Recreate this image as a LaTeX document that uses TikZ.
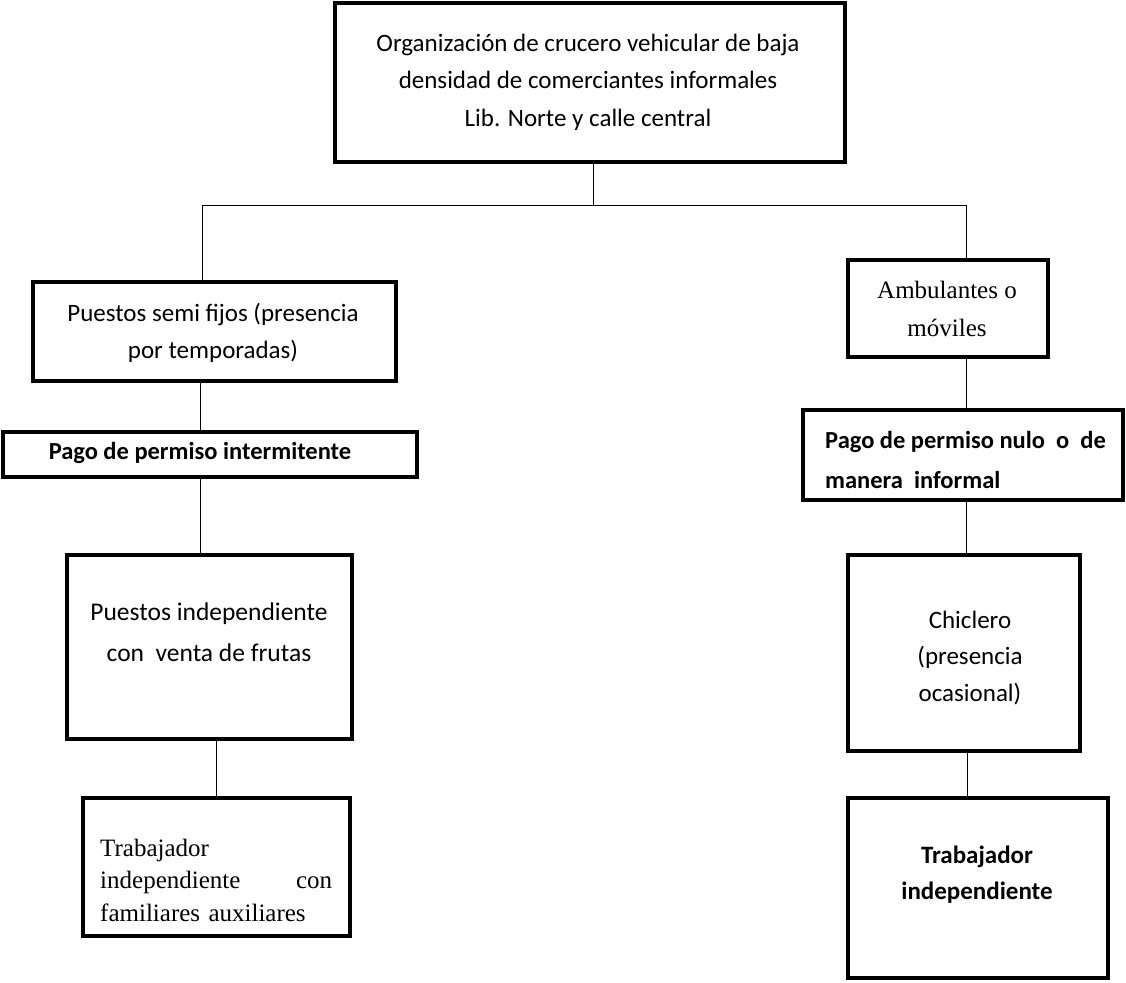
\documentclass[tikz,border=0pt]{standalone}
\usepackage{fontspec}
\setmainfont{Carlito}
\newfontfamily\tnr{Liberation Serif}
\begin{document}
\begin{tikzpicture}[x=1pt,y=-1pt,
  box/.style={draw=black,line width=3.5pt,minimum width=#1,inner sep=0pt},
  txt/.style={inner sep=0pt,align=center,font=\fontsize{25}{37}\selectfont},
  conn/.style={line width=1pt}]
\useasboundingbox[fill=white] (0,0) rectangle (1126,982);
% boxes
\node[box=510pt,minimum height=159pt] (top) at (590,82.5) {};
\node[box=363pt,minimum height=99pt] (semi) at (214.5,331.5) {};
\node[box=414pt,minimum height=45pt] (pint) at (210,454.5) {};
\node[box=285pt,minimum height=184pt] (pind) at (209.5,647) {};
\node[box=267pt,minimum height=138pt] (tfam) at (216.5,867) {};
\node[box=200pt,minimum height=97pt] (amb) at (948,308.5) {};
\node[box=320pt,minimum height=90pt] (pnul) at (963,455) {};
\node[box=232pt,minimum height=196pt] (chic) at (964,653) {};
\node[box=260pt,minimum height=180pt] (tind) at (978,888) {};
% texts
\node[txt,font=\fontsize{25}{37.5}\selectfont] (ttop) at (588,82) {Organización de crucero vehicular de baja\\densidad de comerciantes informales\\Lib. Norte y calle central};
\node[txt] (tsemi) at (213,333) {Puestos semi fijos (presencia\\por temporadas)};
\node[txt,font=\bfseries\fontsize{24.5}{37}\selectfont] (tpint) at (200,453) {Pago de permiso intermitente};
\node[txt,font=\fontsize{25.5}{41}\selectfont] (tpind) at (209,632) {Puestos independiente\\con~ venta de frutas};
\node[txt,align=left,text width=232pt,anchor=west,font=\tnr\fontsize{25}{32.5}\selectfont] (ttfam) at (100,880) {Trabajador\\independiente\hfill con\\familiares auxiliares};
\node[txt,font=\tnr\fontsize{25}{38}\selectfont] (tamb) at (947,309) {Ambulantes o\\móviles};
\node[txt,align=left,anchor=west,font=\bfseries\fontsize{24.5}{40}\selectfont] (tpnul) at (825,460) {Pago de permiso nulo~ o~ de\\manera~ informal};
\node[txt,font=\fontsize{25}{36.5}\selectfont] (tchic) at (970,658) {Chiclero\\(presencia\\ocasional)};
\node[txt,font=\bfseries\fontsize{25}{36}\selectfont] (ttind) at (977,875) {Trabajador\\independiente};
% connectors
\coordinate (hl) at (202,205);
\coordinate (hr) at (966,205);
\draw[conn] (593,0 |- top.south) -- (593,205);
\draw[conn] (hl) -- (hr);
\draw[conn] (hl) -- (hl |- semi.north);
\draw[conn] (hr) -- (hr |- amb.north);
\draw[conn] (200,0 |- semi.south) -- (200,0 |- pint.north);
\draw[conn] (200,0 |- pint.south) -- (200,0 |- pind.north);
\draw[conn] (216,0 |- pind.south) -- (216,0 |- tfam.north);
\draw[conn] (966,0 |- amb.south) -- (966,0 |- pnul.north);
\draw[conn] (966,0 |- pnul.south) -- (966,0 |- chic.north);
\draw[conn] (967,0 |- chic.south) -- (967,0 |- tind.north);
\end{tikzpicture}
\end{document}
